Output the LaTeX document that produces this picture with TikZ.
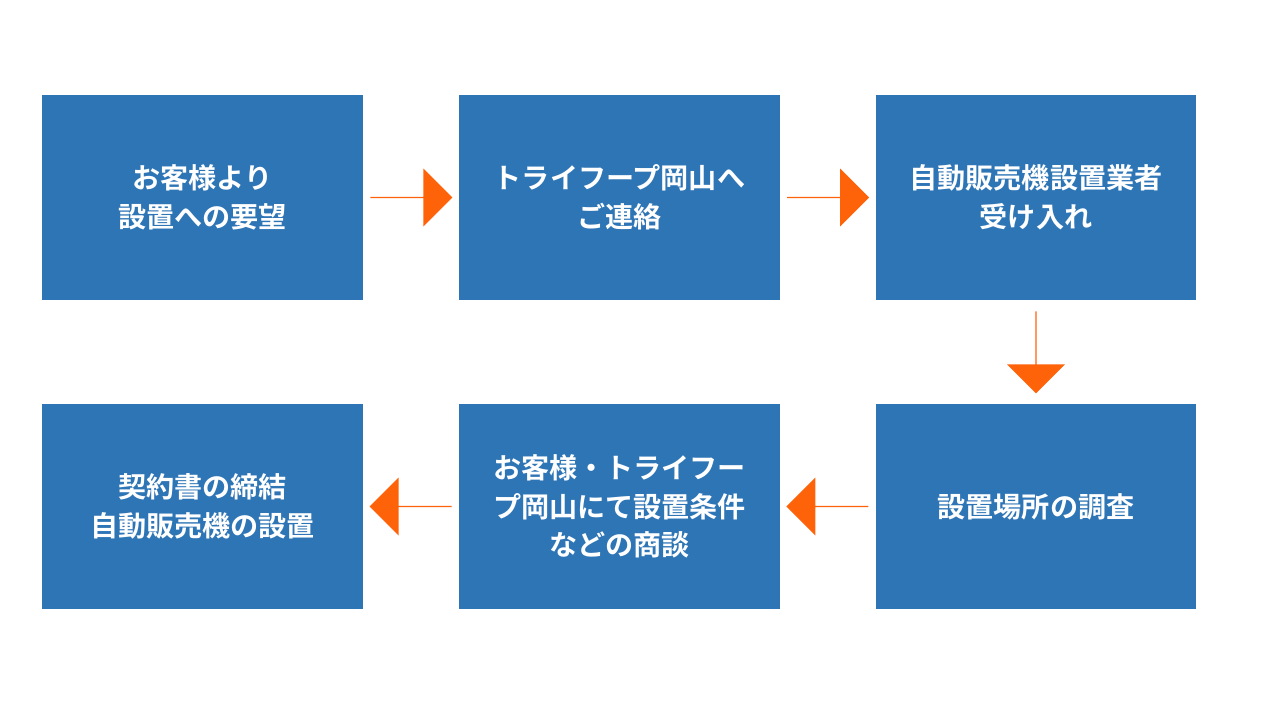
\documentclass[tikz,border=0pt]{standalone}
\usepackage{fontspec}
\setmainfont{Noto Sans CJK JP}[BoldFont={Noto Sans CJK JP Bold}]
\usetikzlibrary{positioning,shapes.arrows,calc}
\definecolor{stepblue}{RGB}{46,117,182}
\definecolor{flowarrow}{RGB}{255,99,10}
\tikzset{
  stepbox/.style={fill=stepblue,text=white,minimum width=6.42cm,minimum height=4.1cm,
    align=center,font=\fontsize{16}{22}\selectfont\bfseries,inner sep=0pt},
  flow/.style={single arrow,fill=flowarrow,draw=none,minimum height=1.64cm,
    minimum width=1.16cm,single arrow head extend=0.28cm,single arrow head indent=0pt,inner sep=0pt}
}
\begin{document}
\begin{tikzpicture}[x=0.02cm,y=-0.02cm]
    \useasboundingbox (0,0) rectangle (1280,720);

    % Top row
    \node[stepbox] (request) at (202.5,197.5) {お客様より\\設置への要望};
    \node[stepbox] (contact) at (619.5,197.5) {トライフープ岡山へ\\ご連絡};
    \node[stepbox] (vendor) at (1036,197.5) {自動販売機設置業者\\受け入れ};

    % Bottom row
    \node[stepbox] (survey) at (1036,506.5) {設置場所の調査};
    \node[stepbox] (talks) at (619.5,506.5) {お客様・トライフー\\プ岡山にて設置条件\\などの商談};
    \node[stepbox] (contract) at (202.5,506.5) {契約書の締結\\自動販売機の設置};

    % Arrows
    \node[flow] (a1) at ($(request.east)!0.5!(contact.west)$) {};
    \node[flow] (a2) at ($(contact.east)!0.5!(vendor.west)$) {};
    \node[flow,shape border rotate=270] (a3) at ($(vendor.south)!0.5!(survey.north)$) {};
    \node[flow,shape border rotate=180] (a4) at ($(survey.west)!0.5!(talks.east)$) {};
    \node[flow,shape border rotate=180] (a5) at ($(talks.west)!0.5!(contract.east)$) {};
\end{tikzpicture}
\end{document}
